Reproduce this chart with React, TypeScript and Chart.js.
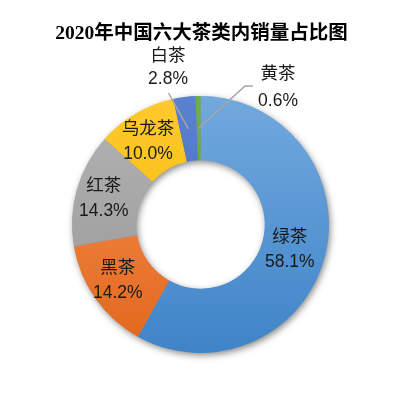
import React, { useEffect, useRef } from "react";
import { Chart, registerables } from "chart.js";

Chart.register(...registerables);

const title = "2020年中国六大茶类内销量占比图";
const categories = ["绿茶", "黑茶", "红茶", "乌龙茶", "白茶", "黄茶"];
const shares = [58.1, 14.2, 14.3, 10.0, 2.8, 0.6];
const colorTop = ["#72a9de", "#f69455", "#b4b4b4", "#ffc92e", "#5a82cf", "#70ad47"];
const colorBottom = ["#3f84c8", "#e2661c", "#959595", "#f0b700", "#3a68bd", "#62a03c"];

const labelFont = '17.5px "Liberation Sans", "Noto Sans CJK SC", sans-serif';
const titleFont = 'bold 19.5px "Liberation Serif", "Noto Sans CJK SC", serif';

const ringShadow = {
  id: "ringShadow",
  beforeDatasetsDraw(chart: any) {
    const arc = chart.getDatasetMeta(0).data[0];
    if (!arc) return;
    const { x, y, innerRadius, outerRadius } = arc.getProps(["x", "y", "innerRadius", "outerRadius"], true);
    const ctx = chart.ctx;
    ctx.save();
    ctx.beginPath();
    ctx.arc(x, y, outerRadius - 0.5, 0, Math.PI * 2);
    ctx.arc(x, y, innerRadius + 0.5, 0, Math.PI * 2, true);
    ctx.closePath();
    ctx.fillStyle = "#8a8a8a";
    ctx.shadowColor = "rgba(0,0,0,0.5)";
    ctx.shadowBlur = 7;
    ctx.shadowOffsetX = 1.5;
    ctx.shadowOffsetY = 2.5;
    ctx.fill("evenodd");
    ctx.restore();
  },
};

const titleAndLabels = {
  id: "titleAndLabels",
  afterDatasetsDraw(chart: any) {
    const ctx = chart.ctx;
    const meta = chart.getDatasetMeta(0);
    ctx.save();
    ctx.textAlign = "center";
    ctx.textBaseline = "middle";
    ctx.font = titleFont;
    ctx.fillStyle = "#000";
    ctx.fillText(title, 201.5, 34);
    ctx.font = labelFont;
    ctx.fillStyle = "#1a1a1a";
    meta.data.forEach((arc: any, i: number) => {
      const pos = arc.tooltipPosition(true);
      const name = categories[i];
      const pct = shares[i].toFixed(1) + "%";
      if (i === 4) {
        ctx.strokeStyle = "#a6a6a6";
        ctx.lineWidth = 1.5;
        ctx.beginPath();
        ctx.moveTo(pos.x, pos.y);
        ctx.lineTo(168.5, 93);
        ctx.stroke();
        ctx.fillText(name, 168, 56.5);
        ctx.fillText(pct, 168, 79);
      } else if (i === 5) {
        ctx.strokeStyle = "#a6a6a6";
        ctx.lineWidth = 1.5;
        ctx.beginPath();
        ctx.moveTo(pos.x, pos.y);
        ctx.lineTo(245, 86);
        ctx.lineTo(253, 86);
        ctx.stroke();
        ctx.fillText(name, 278, 74.5);
        ctx.fillText(pct, 278, 101);
      } else {
        ctx.fillText(name, pos.x - 4, pos.y - 12);
        ctx.fillText(pct, pos.x - 4, pos.y + 13);
      }
    });
    ctx.restore();
  },
};

export default function App() {
  const ref = useRef<HTMLCanvasElement>(null);
  useEffect(() => {
    if (!ref.current) return;
    const grad = (i: number) => (c: any) => {
      const area = c.chart.chartArea;
      if (!area) return colorTop[i];
      const g = c.chart.ctx.createLinearGradient(0, area.top, 0, area.bottom);
      g.addColorStop(0, colorTop[i]);
      g.addColorStop(1, colorBottom[i]);
      return g;
    };
    const chart = new Chart(ref.current, {
      type: "doughnut",
      data: {
        labels: categories,
        datasets: [
          {
            data: shares,
            backgroundColor: (c: any) => grad(c.dataIndex)(c),
            borderWidth: 0,
            hoverOffset: 0,
            offset: 0,
          },
        ],
      },
      options: {
        responsive: false,
        animation: false,
        cutout: "50%",
        layout: { padding: { top: 96, left: 72, right: 74, bottom: 44 } },
        plugins: {
          legend: { display: false },
          tooltip: { enabled: false },
          title: { display: false },
        },
        events: [],
      },
      plugins: [ringShadow, titleAndLabels],
    });
    return () => chart.destroy();
  }, []);
  return (
    <canvas
      ref={ref}
      width={403}
      height={397}
      style={{ position: "absolute", left: 0, top: 0, width: 403, height: 397, background: "#fff" }}
    />
  );
}
